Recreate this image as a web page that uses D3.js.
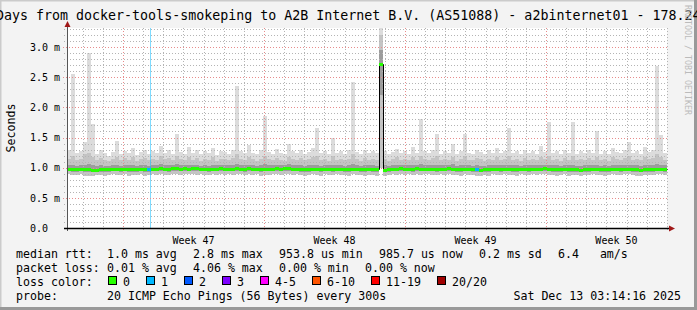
<!DOCTYPE html>
<html>
<head>
<meta charset="utf-8">
<script src="https://cdn.jsdelivr.net/npm/d3@7"></script>
<style>
  html, body { margin: 0; padding: 0; background: #f3f3f3; }
  svg { display: block; }
  text { font-family: "DejaVu Sans Mono", monospace; fill: #000; white-space: pre; }
</style>
</head>
<body>
<script>
// smokeping 30 day graph, values in ms, one bin ~ 4.8 h
const median = [
  0.98,0.98,0.97,0.98,0.97,0.97,0.96,0.96,0.97,0.97,
  0.97,0.97,0.98,0.97,0.98,0.98,0.97,0.97,0.98,0.97,
  0.97,0.98,0.98,0.99,0.98,0.98,0.99,0.99,0.98,0.99,
  0.98,0.99,0.99,0.98,0.98,0.97,0.98,0.98,0.99,0.98,
  0.98,0.98,0.99,0.98,0.98,0.99,0.98,0.98,0.97,0.98,
  0.98,0.98,0.99,0.98,0.99,0.99,0.98,0.98,0.98,0.97,
  0.97,0.98,0.98,0.97,0.98,0.98,0.97,0.98,0.98,0.98,
  0.97,0.98,0.98,0.97,0.97,0.98,0.97,0.98,2.72,0.96,
  0.97,0.98,0.98,0.99,0.98,0.98,0.98,0.99,0.98,0.98,
  0.98,0.98,0.97,0.98,0.98,0.99,0.98,0.98,0.97,0.98,
  0.98,0.97,0.97,0.96,0.97,0.97,0.98,0.98,0.97,0.98,
  0.98,0.98,0.97,0.98,0.98,0.97,0.98,0.98,0.98,0.99,
  0.98,0.98,0.97,0.97,0.98,0.97,0.97,0.97,0.96,0.97,
  0.97,0.98,0.98,0.97,0.97,0.97,0.98,0.98,0.97,0.98,
  0.98,0.97,0.97,0.96,0.97,0.97,0.97,0.98,0.98,0.97
];
// highest ping of the bin
const pingMax = [
  1.30,2.55,1.25,1.28,1.42,2.90,1.72,1.22,1.30,1.24,
  1.20,1.26,1.45,1.22,1.28,1.24,1.33,1.21,1.26,1.30,
  1.22,1.27,1.24,1.36,1.25,1.29,1.22,1.55,1.26,1.23,
  1.35,1.24,1.30,1.22,1.27,1.25,1.32,1.21,1.28,1.26,
  1.23,1.30,2.35,1.27,1.24,1.38,1.25,1.22,1.29,1.85,
  1.26,1.23,1.31,1.25,1.22,1.40,1.27,1.24,1.30,1.23,
  1.26,1.33,1.65,1.24,1.28,1.22,1.50,1.25,1.27,1.23,
  1.29,2.42,1.26,1.22,1.30,1.25,1.28,1.24,3.35,1.27,
  1.22,1.26,1.31,1.24,1.27,1.23,1.35,1.25,1.80,1.28,
  1.24,1.30,1.55,1.23,1.27,1.25,1.40,1.22,1.28,1.55,
  1.25,1.23,1.30,1.26,1.22,1.29,1.24,1.33,1.25,1.27,
  1.65,1.24,1.28,1.22,1.30,1.25,1.27,1.23,1.36,1.26,
  1.75,1.24,1.28,1.22,1.30,1.25,1.75,1.23,1.27,1.24,
  1.29,1.25,1.60,1.23,1.28,1.22,1.33,1.26,1.24,1.30,
  1.42,1.25,1.28,1.23,1.35,1.26,1.30,2.68,1.54,1.25
];
// upper edge of the main smoke
const pingHi = [
  1.15,1.20,1.12,1.14,1.22,1.25,1.18,1.12,1.16,1.13,
  1.11,1.15,1.18,1.12,1.16,1.13,1.17,1.11,1.14,1.16,
  1.12,1.15,1.13,1.19,1.14,1.16,1.12,1.20,1.15,1.12,
  1.18,1.13,1.16,1.11,1.14,1.13,1.17,1.11,1.15,1.14,
  1.12,1.16,1.22,1.15,1.13,1.18,1.14,1.11,1.15,1.20,
  1.14,1.12,1.16,1.13,1.11,1.18,1.15,1.13,1.16,1.12,
  1.14,1.17,1.20,1.13,1.15,1.11,1.19,1.13,1.15,1.12,
  1.15,1.22,1.14,1.11,1.16,1.13,1.15,1.13,3.20,1.15,
  1.11,1.14,1.17,1.13,1.15,1.12,1.18,1.13,1.20,1.15,
  1.13,1.16,1.19,1.12,1.15,1.13,1.18,1.11,1.15,1.19,
  1.13,1.12,1.16,1.14,1.11,1.15,1.13,1.17,1.13,1.15,
  1.19,1.13,1.15,1.11,1.16,1.13,1.15,1.12,1.18,1.14,
  1.20,1.13,1.15,1.11,1.16,1.13,1.19,1.12,1.15,1.13,
  1.16,1.13,1.18,1.12,1.15,1.11,1.17,1.14,1.13,1.16,
  1.19,1.13,1.15,1.12,1.17,1.14,1.16,1.22,1.18,1.13
];
// inner (dense) smoke band
const pingUp = [
  1.04,1.05,1.03,1.04,1.05,1.06,1.05,1.03,1.04,1.03,
  1.03,1.04,1.05,1.03,1.04,1.04,1.05,1.03,1.04,1.04,
  1.03,1.04,1.04,1.06,1.04,1.05,1.04,1.06,1.05,1.04,
  1.05,1.04,1.05,1.03,1.04,1.03,1.05,1.04,1.05,1.04,
  1.04,1.05,1.06,1.05,1.04,1.05,1.04,1.03,1.04,1.06,
  1.05,1.04,1.05,1.04,1.04,1.06,1.05,1.04,1.05,1.03,
  1.04,1.05,1.05,1.03,1.04,1.04,1.05,1.04,1.04,1.03,
  1.04,1.06,1.04,1.03,1.04,1.04,1.04,1.03,2.95,1.04,
  1.03,1.04,1.05,1.04,1.05,1.04,1.05,1.04,1.06,1.05,
  1.04,1.05,1.05,1.04,1.05,1.04,1.06,1.03,1.04,1.05,
  1.04,1.03,1.04,1.03,1.03,1.04,1.04,1.05,1.04,1.04,
  1.05,1.04,1.04,1.03,1.05,1.04,1.04,1.04,1.05,1.05,
  1.05,1.04,1.04,1.03,1.05,1.04,1.05,1.03,1.03,1.04,
  1.04,1.04,1.05,1.03,1.04,1.03,1.05,1.04,1.04,1.04,
  1.05,1.04,1.04,1.03,1.04,1.04,1.04,1.06,1.05,1.04
];
const pingDn = [
  0.94,0.93,0.93,0.94,0.93,0.92,0.92,0.93,0.93,0.93,
  0.93,0.94,0.94,0.93,0.94,0.93,0.93,0.93,0.94,0.93,
  0.93,0.94,0.94,0.94,0.94,0.93,0.95,0.94,0.94,0.95,
  0.94,0.95,0.94,0.94,0.94,0.93,0.94,0.94,0.95,0.94,
  0.94,0.94,0.94,0.94,0.93,0.95,0.94,0.94,0.93,0.94,
  0.94,0.94,0.95,0.94,0.95,0.94,0.94,0.94,0.93,0.93,
  0.93,0.94,0.94,0.93,0.94,0.94,0.93,0.94,0.94,0.93,
  0.93,0.94,0.94,0.93,0.93,0.94,0.93,0.93,2.20,0.92,
  0.93,0.94,0.94,0.95,0.94,0.94,0.93,0.95,0.94,0.94,
  0.94,0.94,0.93,0.94,0.94,0.95,0.94,0.93,0.93,0.94,
  0.94,0.93,0.93,0.92,0.93,0.93,0.94,0.94,0.93,0.94,
  0.94,0.93,0.93,0.94,0.94,0.93,0.94,0.94,0.94,0.95,
  0.94,0.93,0.93,0.93,0.94,0.93,0.93,0.93,0.92,0.93,
  0.93,0.94,0.94,0.93,0.93,0.93,0.94,0.94,0.93,0.94,
  0.94,0.93,0.93,0.92,0.93,0.93,0.93,0.94,0.94,0.93
];
// lowest ping of the bin
const pingLo = [
  0.89,0.88,0.88,0.89,0.87,0.87,0.86,0.88,0.88,0.87,
  0.88,0.89,0.88,0.88,0.89,0.87,0.88,0.88,0.89,0.87,
  0.88,0.89,0.88,0.89,0.88,0.88,0.90,0.89,0.88,0.89,
  0.89,0.90,0.88,0.89,0.88,0.88,0.89,0.88,0.90,0.88,
  0.89,0.88,0.89,0.89,0.88,0.90,0.88,0.89,0.87,0.88,
  0.88,0.89,0.90,0.88,0.89,0.89,0.88,0.89,0.88,0.87,
  0.88,0.89,0.88,0.87,0.89,0.88,0.88,0.89,0.88,0.88,
  0.87,0.89,0.88,0.88,0.87,0.88,0.88,0.87,1.00,0.87,
  0.88,0.89,0.88,0.90,0.88,0.89,0.88,0.90,0.88,0.89,
  0.89,0.88,0.88,0.89,0.88,0.90,0.88,0.88,0.87,0.89,
  0.88,0.88,0.87,0.87,0.88,0.87,0.89,0.88,0.88,0.89,
  0.88,0.88,0.87,0.89,0.88,0.88,0.89,0.88,0.89,0.90,
  0.88,0.88,0.87,0.88,0.89,0.87,0.88,0.88,0.87,0.88,
  0.88,0.89,0.88,0.88,0.87,0.88,0.89,0.88,0.88,0.89,
  0.89,0.88,0.87,0.87,0.88,0.88,0.88,0.89,0.89,0.88
];
// bins with lost pings (out of 20); only the first one shows a loss background
const lossBins = [20, 102];
const lossCounts = [1, 1];
const lossBackground = [20];

const lossLabels = ["0", "1", "2", "3", "4-5", "6-10", "11-19", "20/20"];
const lossColors = ["#26ff00", "#00b8ff", "#0059ff", "#7e00ff", "#ff00ff", "#ff5500", "#ff0000", "#a00000"];
const rttStats = ["1.0 ms avg", "2.8 ms max", "953.8 us min", "985.7 us now", "0.2 ms sd", "6.4   am/s"];
const lossStats = ["0.01 % avg", "4.06 % max", "0.00 % min", "0.00 % now"];
const probeText = "20 ICMP Echo Pings (56 Bytes) every 300s";
const stampText = "Sat Dec 13 03:14:16 2025";
const titleText = "30 Days from docker-tools-smokeping to A2B Internet B.V. (AS51088) - a2binternet01 - 178.24";

const width = 697, height = 310;
const startTime = new Date(2025, 10, 14, 5, 15);
const endTime = new Date(2025, 11, 14, 0, 15);
const binMs = (endTime - startTime) / median.length;
const binTime = i => new Date(+startTime + i * binMs);

const x = d3.scaleTime().domain([startTime, endTime]).range([67, 667]);
const y = d3.scaleLinear().domain([0, 3.315]).range([228, 28]).clamp(true);

const svg = d3.select("body").append("svg")
  .attr("width", width)
  .attr("height", height);

// background + 3d frame
svg.append("rect").attr("width", width).attr("height", height).attr("fill", "#f3f3f3");
svg.append("path").attr("d", `M0,${height}V0H${width}`).attr("fill", "none").attr("stroke", "#cbcbcb").attr("stroke-width", 3);
svg.append("path").attr("d", `M0,${height - 1.5}H${width - 1.5}V0`).attr("fill", "none").attr("stroke", "#999").attr("stroke-width", 3);

svg.append("rect")
  .attr("x", x.range()[0]).attr("y", y.range()[1])
  .attr("width", x.range()[1] - x.range()[0])
  .attr("height", y.range()[0] - y.range()[1])
  .attr("fill", "#fff");

// smoke
const bins = d3.range(median.length);
const bx = i => x(binTime(i));
const bw = i => x(binTime(i + 1)) - x(binTime(i));
const smoke = svg.append("g").attr("shape-rendering", "crispEdges");
function band(lo, hi, color) {
  smoke.append("g").selectAll("rect")
    .data(bins)
    .join("rect")
    .attr("x", bx)
    .attr("width", bw)
    .attr("y", i => y(hi[i]))
    .attr("height", i => y(lo[i]) - y(hi[i]))
    .attr("fill", color);
}
band(pingLo, pingMax, "#dcdcdc");
band(pingLo, pingHi, "#c4c4c4");
band(pingDn, pingUp, "#9c9c9c");

// loss background
svg.append("g").selectAll("line")
  .data(lossBackground)
  .join("line")
  .attr("x1", i => Math.round(bx(i)) + 3.5)
  .attr("x2", i => Math.round(bx(i)) + 3.5)
  .attr("y1", y.range()[1])
  .attr("y2", y.range()[0])
  .attr("stroke", i => lossColors[lossCounts[lossBins.indexOf(i)]])
  .attr("stroke-opacity", 0.5);

// grid
const grid = svg.append("g").attr("fill", "none").attr("stroke-dasharray", "1,2")
  .attr("shape-rendering", "crispEdges");
const yMinor = d3.range(1, 34).filter(v => v % 5 !== 0).map(v => v / 10);
const yMajor = d3.range(0, 31, 5).map(v => v / 10);
grid.selectAll(".ymin").data(yMinor).join("line")
  .attr("x1", 64).attr("x2", 667)
  .attr("y1", d => Math.round(y(d)) + 0.5).attr("y2", d => Math.round(y(d)) + 0.5)
  .attr("stroke", "#b4b4b4");
const days = d3.timeDay.range(startTime, endTime).filter(d => d.getDay() !== 1);
grid.selectAll(".xmin").data(days).join("line")
  .attr("x1", d => Math.round(x(d)) + 0.5).attr("x2", d => Math.round(x(d)) + 0.5)
  .attr("y1", 28).attr("y2", 231)
  .attr("stroke", "#b4b4b4");
grid.selectAll(".ymaj").data(yMajor.slice(1)).join("line")
  .attr("x1", 63).attr("x2", 667)
  .attr("y1", d => Math.round(y(d)) + 0.5).attr("y2", d => Math.round(y(d)) + 0.5)
  .attr("stroke", "#e88c8c");
const mondays = d3.timeMonday.range(startTime, endTime);
grid.selectAll(".xmaj").data(mondays).join("line")
  .attr("x1", d => Math.round(x(d)) + 0.5).attr("x2", d => Math.round(x(d)) + 0.5)
  .attr("y1", 28).attr("y2", 232)
  .attr("stroke", "#e88c8c");

// median line, then loss coloured segments on top
const medPts = bins.map(i => [binTime(i), median[i]]);
medPts.push([endTime, median[median.length - 1]]);
svg.append("path")
  .datum(medPts)
  .attr("d", d3.line().x(d => Math.round(x(d[0])) + 0.5).y(d => Math.round(y(d[1])) + 0.5).curve(d3.curveStepAfter))
  .attr("fill", "none")
  .attr("stroke", "#000")
  .attr("stroke-width", 1);

const lossOf = i => {
  const k = lossBins.indexOf(i);
  return k < 0 ? 0 : lossCounts[k];
};
const lossIdx = n => n === 0 ? 0 : n <= 3 ? n : n <= 5 ? 4 : n <= 10 ? 5 : n < 20 ? 6 : 7;
svg.append("g").attr("shape-rendering", "crispEdges").selectAll("rect")
  .data(bins)
  .join("rect")
  .attr("x", bx)
  .attr("width", bw)
  .attr("y", i => Math.round(y(median[i])) - 1)
  .attr("height", 3)
  .attr("fill", i => lossColors[lossIdx(lossOf(i))]);

// axes
svg.append("line").attr("x1", 67.5).attr("x2", 67.5).attr("y1", 231).attr("y2", 24)
  .attr("stroke", "#555");
svg.append("line").attr("x1", 64).attr("x2", 670).attr("y1", 228.5).attr("y2", 228.5)
  .attr("stroke", "#000").attr("stroke-width", 1.4);
svg.append("path").attr("d", "M64.5,27L70.5,27L67.5,21Z").attr("fill", "#a01818");
svg.append("path").attr("d", "M669,225.5L675,228.5L669,231.5Z").attr("fill", "#a01818");

// y labels
svg.append("g").selectAll("text")
  .data(yMajor)
  .join("text")
  .attr("x", 30)
  .attr("y", d => y(d))
  .attr("dy", "0.37em")
  .attr("font-size", "10px")
  .text(d => d === 0 ? "0.0" : d3.format(".1f")(d) + " m");

// week labels
const weekFmt = d3.timeFormat("Week %V");
svg.append("g").selectAll("text")
  .data(mondays.filter(d => d3.timeHour.offset(d, 84) < endTime))
  .join("text")
  .attr("x", d => x(d3.timeHour.offset(d, 84)))
  .attr("y", 244)
  .attr("text-anchor", "middle")
  .attr("font-size", "10px")
  .text(weekFmt);

svg.append("text")
  .attr("transform", "translate(14.5,128) rotate(-90)")
  .attr("text-anchor", "middle")
  .attr("font-size", "11.6px")
  .text("Seconds");

svg.append("text")
  .attr("x", -28).attr("y", 20)
  .attr("font-size", "13.3px")
  .text(titleText);

svg.append("text")
  .attr("transform", "translate(685,5) rotate(90)")
  .attr("font-size", "8.3px")
  .style("fill", "#bbb")
  .text("RRDTOOL / TOBI OETIKER");

// legend
const charW = 7, gap = 9, col = 107;
const rows = [257.5, 271.5, 285.5, 299.5];
const legend = svg.append("g").attr("font-size", "11.6px");
function row(label, items, yy) {
  legend.append("text").attr("x", 16).attr("y", yy).text(label);
  let xx = col;
  items.forEach(s => {
    legend.append("text").attr("x", xx).attr("y", yy).text(s);
    xx += (s.length + 1) * charW + gap;
  });
}
row("median rtt:", rttStats, rows[0]);
row("packet loss:", lossStats, rows[1]);

legend.append("text").attr("x", 16).attr("y", rows[2]).text("loss color:");
let lx = 108;
lossLabels.forEach((s, k) => {
  legend.append("rect")
    .attr("x", lx + 0.5).attr("y", rows[2] - 9)
    .attr("width", 8).attr("height", 8)
    .attr("fill", lossColors[k])
    .attr("stroke", "#000");
  legend.append("text").attr("x", lx + 15).attr("y", rows[2]).text(s);
  lx += 15 + (s.length + 1) * charW + gap;
});

legend.append("text").attr("x", 16).attr("y", rows[3]).text("probe:");
legend.append("text").attr("x", col).attr("y", rows[3]).text(probeText);
legend.append("text").attr("x", 681).attr("y", rows[3]).attr("text-anchor", "end").text(stampText);
</script>
</body>
</html>
